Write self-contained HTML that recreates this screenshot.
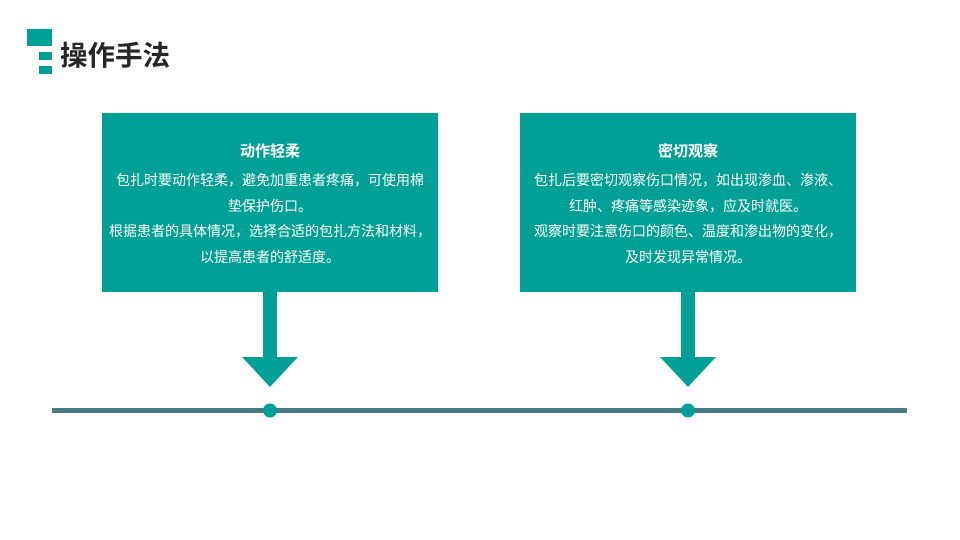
<!DOCTYPE html>
<html><head><meta charset="utf-8"><style>
body{margin:0;width:960px;height:540px;background:#fff;position:relative;overflow:hidden;font-family:"Liberation Sans","Noto Sans CJK SC",sans-serif}
.a{position:absolute}
.box{position:absolute;top:113px;width:336px;height:179px;background:#00a096;color:#fff;text-align:center}
.box h3{margin:0;padding-top:29px;font-size:15px;font-weight:bold;line-height:20px}
.box p{margin:6px 0 0;font-size:14px;line-height:25.5px;white-space:nowrap}
</style></head><body>
<div class="a" style="left:27px;top:29px;width:25px;height:17px;background:#00a096"></div>
<div class="a" style="left:39px;top:52px;width:13px;height:8px;background:#00a096"></div>
<div class="a" style="left:39px;top:66px;width:13px;height:8px;background:#00a096"></div>
<div class="a" style="left:60px;top:38px;font-size:27.5px;font-weight:bold;color:#262626;line-height:36px">操作手法</div>
<div class="box" style="left:102px"><h3>动作轻柔</h3><p>包扎时要动作轻柔，避免加重患者疼痛，可使用棉<br>垫保护伤口。<br>根据患者的具体情况，选择合适的包扎方法和材料，<br>以提高患者的舒适度。</p></div>
<div class="box" style="left:520px"><h3>密切观察</h3><p>包扎后要密切观察伤口情况，如出现渗血、渗液、<br>红肿、疼痛等感染迹象，应及时就医。<br>观察时要注意伤口的颜色、温度和渗出物的变化，<br>及时发现异常情况。</p></div>
<svg class="a" style="left:0;top:0" width="960" height="540">
<rect x="52" y="408" width="855" height="5" fill="#477a82"/>
<rect x="263" y="291" width="14" height="67" fill="#00a096"/>
<polygon points="242,357 298,357 270,387" fill="#00a096"/>
<rect x="681" y="291" width="14" height="67" fill="#00a096"/>
<polygon points="660,357 716,357 688,387" fill="#00a096"/>
<circle cx="270" cy="410.5" r="7" fill="#00a096"/>
<circle cx="688" cy="410.5" r="7" fill="#00a096"/>
</svg>
</body></html>
